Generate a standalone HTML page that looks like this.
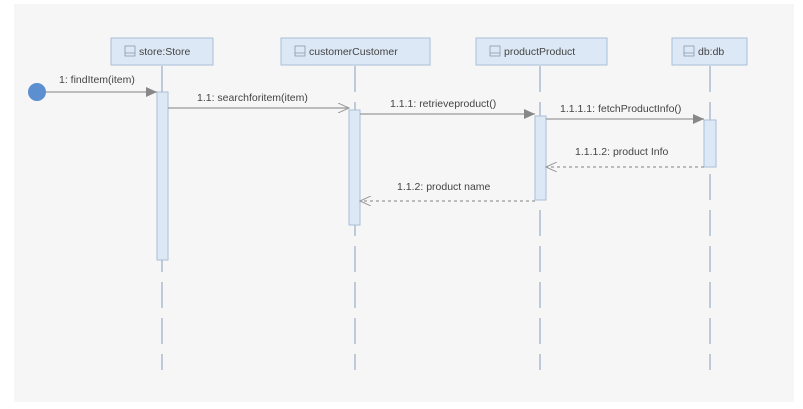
<!DOCTYPE html>
<html><head><meta charset="utf-8"><style>
body{margin:0;background:#fff;}
svg{display:block}
text{font-family:"Liberation Sans",sans-serif;font-size:10.5px;fill:#444}
</style></head><body>
<svg width="803" height="409" viewBox="0 0 803 409">
<rect x="14" y="4" width="780" height="398" fill="#f6f6f7"/>
<defs>
<marker id="f" markerWidth="12" markerHeight="10" refX="11" refY="5" orient="auto" markerUnits="userSpaceOnUse"><path d="M0,0 L11,5 L0,10 z" fill="#888"/></marker>
<marker id="o" markerWidth="12" markerHeight="10" refX="11" refY="5" orient="auto" markerUnits="userSpaceOnUse"><path d="M0,0 L11,5 L0,10" fill="none" stroke="#999" stroke-width="1"/></marker>
</defs>
<g stroke="#aabbd0" stroke-width="1.5" stroke-dasharray="26,10">
<line x1="162" y1="66" x2="162" y2="370"/>
<line x1="355" y1="66" x2="355" y2="370"/>
<line x1="540" y1="66" x2="540" y2="370"/>
<line x1="710" y1="66" x2="710" y2="370"/>
</g>
<g fill="#dce8f5" stroke="#a9bfd6" stroke-width="1">
<rect x="111" y="38" width="102" height="27"/>
<rect x="281" y="38" width="149" height="27"/>
<rect x="476" y="38" width="131" height="27"/>
<rect x="672" y="38" width="75" height="27"/>
<rect x="157" y="92" width="11" height="168"/>
<rect x="349" y="110" width="11" height="115"/>
<rect x="535" y="116" width="11" height="84"/>
<rect x="704" y="120" width="12" height="47"/>
</g>
<g fill="none" stroke="#8a9aad" stroke-width="0.8">
<rect x="125" y="46" width="10" height="10"/><line x1="125" y1="53" x2="135" y2="53"/>
<rect x="295" y="46" width="10" height="10"/><line x1="295" y1="53" x2="305" y2="53"/>
<rect x="490" y="46" width="10" height="10"/><line x1="490" y1="53" x2="500" y2="53"/>
<rect x="684" y="46" width="10" height="10"/><line x1="684" y1="53" x2="694" y2="53"/>
</g>
<text x="139" y="55">store:Store</text>
<text x="309" y="55">customerCustomer</text>
<text x="504" y="55">productProduct</text>
<text x="698" y="55">db:db</text>
<circle cx="37" cy="92" r="9" fill="#5b8fcf"/>
<g stroke="#999" stroke-width="1.2">
<line x1="46" y1="92" x2="157" y2="92" marker-end="url(#f)"/>
<line x1="168" y1="108" x2="349" y2="108" marker-end="url(#o)"/>
<line x1="360" y1="114" x2="535" y2="114" marker-end="url(#f)"/>
<line x1="546" y1="119" x2="704" y2="119" marker-end="url(#f)"/>
<line x1="704" y1="167" x2="546" y2="167" stroke-dasharray="3,3" marker-end="url(#o)"/>
<line x1="535" y1="201" x2="360" y2="201" stroke-dasharray="3,3" marker-end="url(#o)"/>
</g>
<text x="59" y="83">1: findItem(item)</text>
<text x="197" y="101">1.1: searchforitem(item)</text>
<text x="390" y="107">1.1.1: retrieveproduct()</text>
<text x="560" y="112">1.1.1.1: fetchProductInfo()</text>
<text x="575" y="155">1.1.1.2: product Info</text>
<text x="397" y="190">1.1.2: product name</text>
</svg>
</body></html>
